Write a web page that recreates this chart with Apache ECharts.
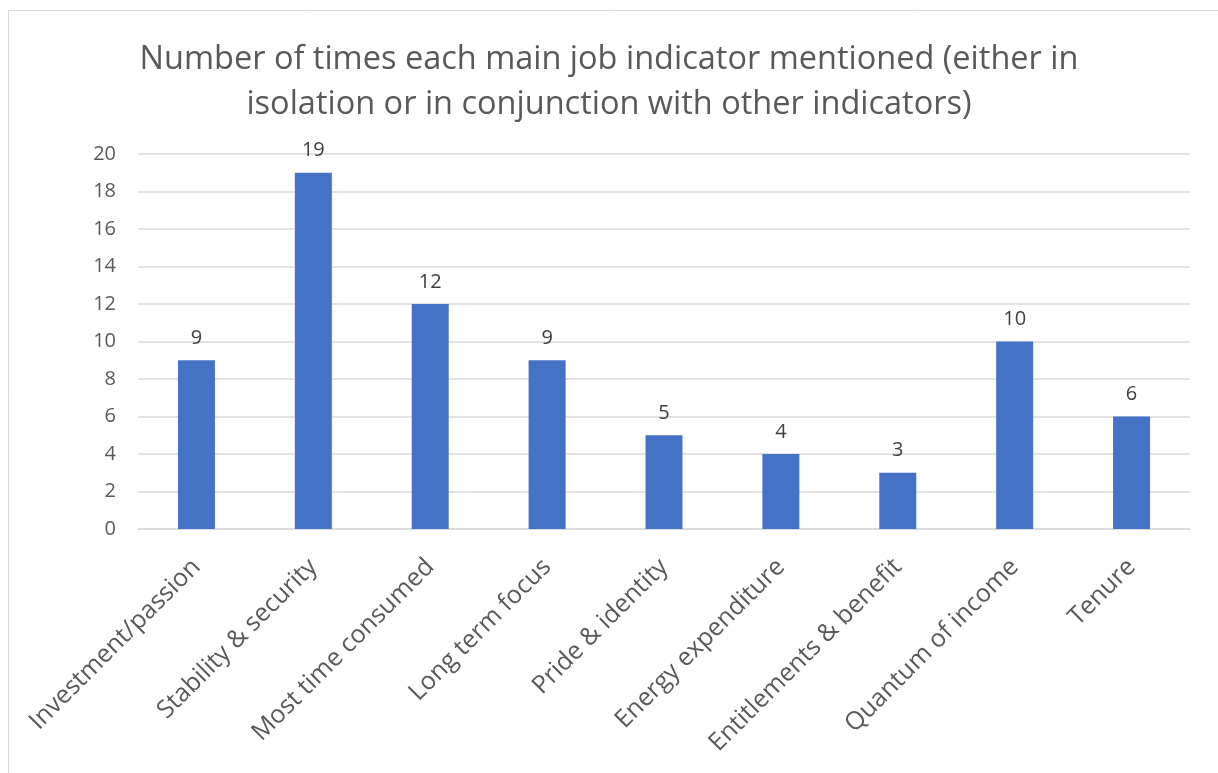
<!DOCTYPE html>
<html>
<head>
<meta charset="utf-8">
<script src="https://cdn.jsdelivr.net/npm/echarts@6/dist/echarts.min.js"></script>
<style>html,body{margin:0;padding:0;background:#fff;}#c{width:1218px;height:773px;}</style>
</head>
<body>
<div id="c"></div>
<script>
const titleText = 'Number of times each main job indicator mentioned (either in\nisolation or in conjunction with other indicators)';
const categories = ['Investment/passion','Stability & security','Most time consumed','Long term focus','Pride & identity','Energy expenditure','Entitlements & benefit','Quantum of income','Tenure'];
const values = [9, 19, 12, 9, 5, 4, 3, 10, 6];
const yTicks = [0, 2, 4, 6, 8, 10, 12, 14, 16, 18, 20];

const font = '"Open Sans", "Noto Sans", sans-serif';
const chart = echarts.init(document.getElementById('c'));
chart.setOption({
  animation: false,
  backgroundColor: '#fff',
  graphic: [{
    type: 'rect', shape: {x: 8.5, y: 10.5, width: 1300, height: 900},
    style: {fill: 'none', stroke: '#d9d9d9', lineWidth: 1}, silent: true
  }],
  title: {
    text: titleText, left: 'center', top: 32,
    textStyle: {fontFamily: font, fontSize: 32.5, fontWeight: 'normal', color: '#595959', lineHeight: 45}
  },
  grid: {left: 138, right: 28, top: 154, bottom: 244},
  xAxis: {
    type: 'category', data: categories,
    axisLine: {show: true, lineStyle: {color: '#d9d9d9', width: 1.5}},
    axisTick: {show: false},
    axisLabel: {rotate: 45, interval: 0, fontFamily: font, fontSize: 25, color: '#595959', margin: 34}
  },
  yAxis: {
    type: 'value', min: yTicks[0], max: yTicks[yTicks.length - 1], interval: 2,
    axisLine: {show: false}, axisTick: {show: false},
    splitLine: {lineStyle: {color: '#d9d9d9', width: 1.5}},
    axisLabel: {fontFamily: font, fontSize: 20, color: '#595959', margin: 22}
  },
  series: [{
    type: 'bar', data: values, barWidth: 37,
    itemStyle: {color: '#4472c4'},
    label: {show: true, position: 'top', distance: 12, fontFamily: font, fontSize: 20, color: '#404040'}
  }]
});
</script>
</body>
</html>
